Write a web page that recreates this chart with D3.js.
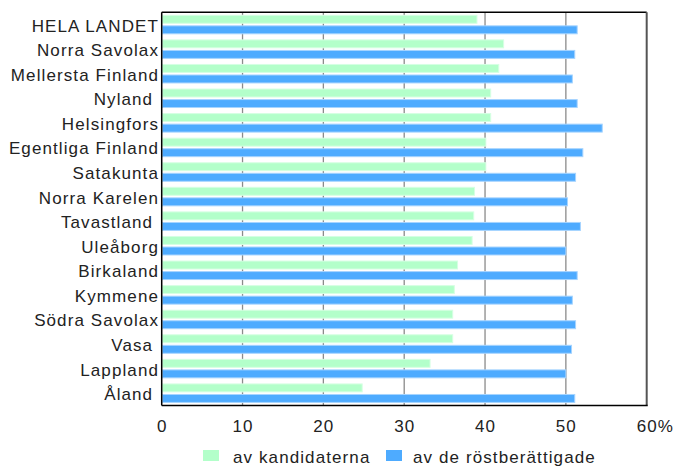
<!DOCTYPE html>
<html><head><meta charset="utf-8">
<script src="https://cdn.jsdelivr.net/npm/d3@7"></script>
<style>
html,body{margin:0;padding:0;background:#fff;}
svg text{font-family:"Liberation Sans",Arial,sans-serif;font-size:17px;letter-spacing:1.1px;fill:#222;white-space:pre;}
</style></head>
<body>
<svg id="chart" width="675" height="468"></svg>
<script>
const categories = ["HELA LANDET","Norra Savolax","Mellersta Finland","Nyland ","Helsingfors","Egentliga Finland","Satakunta","Norra Karelen","Tavastland ","Uleåborg","Birkaland","Kymmene","Södra Savolax","Vasa ","Lappland","Åland "];
const seriesNames = ["av kandidaterna","av de röstberättigade"];
const kandidaterna = [39.0,42.3,41.7,40.7,40.7,40.1,40.1,38.7,38.6,38.4,36.6,36.2,36.0,36.0,33.2,24.8];
const rostberattigade = [51.4,51.1,50.8,51.4,54.5,52.1,51.2,50.2,51.8,50.0,51.4,50.8,51.2,50.7,50.0,51.1];
const tickValues = [0,10,20,30,40,50,60];
const tickLabels = ["0","10","20","30","40","50","60%"];

const colors = ["#b3ffca","#4eabff"];
const strokes = ["#d6ffe3","#a6d4ff"];
const svg = d3.select("#chart");
const L = 161.7, R = 646.7, T = 12.3, B = 405.5;

const x = d3.scaleLinear().domain([0,60]).range([L,R]);
const y = d3.scaleBand().domain(categories).range([T,B]).padding(0);
const inner = d3.scaleBand().domain(seriesNames).range([2.5,22]).paddingInner(0.15).paddingOuter(0);

// gridlines
svg.append("g").selectAll("line").data(tickValues.filter(v=>v>0&&v<60)).join("line")
  .attr("x1",d=>x(d)).attr("x2",d=>x(d)).attr("y1",T).attr("y2",B)
  .attr("stroke","#8a8a8a").attr("stroke-width",1.3);

const rows = categories.map((c,i)=>({c, vals:[kandidaterna[i], rostberattigade[i]]}));
const g = svg.append("g").selectAll("g").data(rows).join("g")
  .attr("transform",d=>`translate(0,${y(d.c)})`);
g.selectAll("rect").data(d=>d.vals.map((v,k)=>({v,k}))).join("rect")
  .attr("x",x(0)+0.5).attr("y",d=>inner(seriesNames[d.k])+0.5)
  .attr("width",d=>x(d.v)-x(0)-0.5).attr("height",inner.bandwidth()-1)
  .attr("fill",d=>colors[d.k]).attr("stroke",d=>strokes[d.k]).attr("stroke-width",1);

// frame
svg.append("line").attr("x1",L).attr("x2",R).attr("y1",T).attr("y2",T).attr("stroke","#000").attr("stroke-width",1.5);
svg.append("line").attr("x1",R).attr("x2",R).attr("y1",T).attr("y2",B).attr("stroke","#555").attr("stroke-width",2);
svg.append("line").attr("x1",L).attr("x2",R+1).attr("y1",B).attr("y2",B).attr("stroke","#000").attr("stroke-width",1.5);
svg.append("line").attr("x1",L).attr("x2",L).attr("y1",T).attr("y2",B).attr("stroke","#000").attr("stroke-width",1.5);

// category labels
svg.append("g").selectAll("text").data(categories).join("text")
  .attr("x",159).attr("y",d=>y(d)+y.bandwidth()/2+7)
  .attr("text-anchor","end").text(d=>d);

// x tick labels
svg.append("g").selectAll("text").data(tickValues).join("text")
  .attr("x",(d,i)=> i===tickValues.length-1 ? x(d)-10 : x(d)+0.5)
  .attr("y",432)
  .attr("text-anchor",(d,i)=> i===tickValues.length-1 ? "start" : "middle")
  .text((d,i)=>tickLabels[i]);

// legend
const legX = [203, 386], legTX = [233, 413];
const leg = svg.append("g").selectAll("g").data(seriesNames).join("g");
leg.append("rect").attr("x",(d,i)=>legX[i]).attr("y",450).attr("width",16).attr("height",11)
  .attr("fill",(d,i)=>colors[i]);
leg.append("text").attr("x",(d,i)=>legTX[i]).attr("y",463).text(d=>d);
</script>
</body></html>
